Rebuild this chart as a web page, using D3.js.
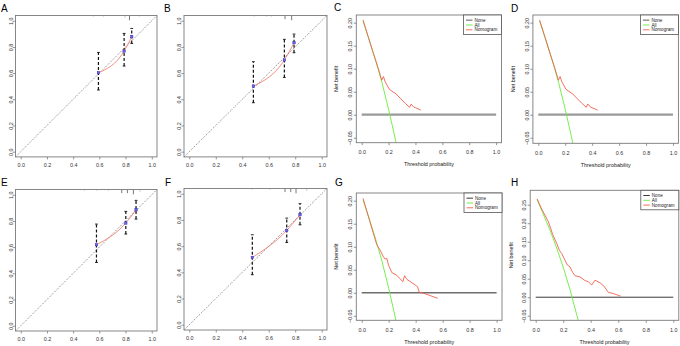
<!DOCTYPE html>
<html>
<head>
<meta charset="utf-8">
<style>
  body { margin: 0; background: #fff; }
  svg { display: block; font-family: "Liberation Sans", Arial, sans-serif; }
</style>
</head>
<body>
<script src="https://d3js.org/d3.v7.min.js"></script>
<script>
// ---------- calibration panels (A, B, E, F) ----------
// predicted probability, observed proportion, 95% CI
const predA = [0.593, 0.789, 0.847];
const obsA = [0.603, 0.768, 0.878];
const loA = [0.471, 0.654, 0.827];
const hiA = [0.758, 0.903, 0.941];
const rugA = [0.555, 0.631, 0.796, 0.83, 0.906];
const rugCountA = [1, 1, 2, 4, 1];

const predB = [0.484, 0.718, 0.791];
const obsB = [0.501, 0.70, 0.832];
const loB = [0.374, 0.567, 0.756];
const hiB = [0.687, 0.858, 0.898];
const rugB = [0.49, 0.584, 0.622, 0.723, 0.773];
const rugCountB = [1, 1, 1, 3, 4];

const predE = [0.578, 0.802, 0.88];
const obsE = [0.618, 0.784, 0.885];
const loE = [0.483, 0.70, 0.814];
const hiE = [0.776, 0.873, 0.957];
const rugE = [0.486, 0.58, 0.669, 0.771, 0.814, 0.86, 0.911];
const rugCountE = [1, 1, 1, 3, 3, 4, 2];

const predF = [0.476, 0.736, 0.836];
const obsF = [0.514, 0.72, 0.84];
const loF = [0.382, 0.628, 0.763];
const hiF = [0.687, 0.814, 0.924];
const rugF = [0.471, 0.61, 0.723, 0.766, 0.806, 0.887];
const rugCountF = [1, 1, 3, 3, 4, 2];

const calTicks = [0, 0.2, 0.4, 0.6, 0.8, 1.0];

// ---------- decision curves (C, D, G, H) ----------
const threshC = [0.01, 0.087, 0.124, 0.149, 0.162, 0.174, 0.206, 0.256, 0.286, 0.323, 0.356, 0.368, 0.386, 0.44];
const nbC = [0.206, 0.133, 0.10, 0.075, 0.083, 0.072, 0.055, 0.045, 0.036, 0.025, 0.016, 0.023, 0.017, 0.010];
const allThreshC = [0.01, 0.05, 0.10, 0.15, 0.20, 0.25, 0.27];
const allNbC = [0.203, 0.168, 0.122, 0.071, 0.012, -0.053, -0.082];

const threshD = threshC.slice();
const nbD = nbC.slice();
const allThreshD = allThreshC.slice();
const allNbD = allNbC.slice();

const threshG = [0.01, 0.112, 0.136, 0.161, 0.174, 0.186, 0.199, 0.223, 0.26, 0.305, 0.318, 0.335, 0.397, 0.414, 0.427, 0.459, 0.563];
const nbG = [0.205, 0.104, 0.093, 0.078, 0.073, 0.075, 0.060, 0.044, 0.038, 0.024, 0.037, 0.029, 0.017, 0.013, 0.001, -0.001, -0.012];
const allThreshG = [0.01, 0.05, 0.10, 0.15, 0.20, 0.25, 0.27];
const allNbG = [0.202, 0.166, 0.120, 0.069, 0.010, -0.055, -0.084];

const threshH = [0.01, 0.044, 0.092, 0.109, 0.123, 0.153, 0.172, 0.189, 0.213, 0.230, 0.249, 0.269, 0.286, 0.322, 0.358, 0.383, 0.407, 0.431, 0.467, 0.496, 0.528, 0.564, 0.617];
const nbH = [0.266, 0.238, 0.204, 0.186, 0.170, 0.145, 0.127, 0.118, 0.100, 0.087, 0.082, 0.067, 0.058, 0.055, 0.045, 0.042, 0.033, 0.046, 0.039, 0.030, 0.013, 0.010, 0.003];
const allThreshH = [0.01, 0.05, 0.10, 0.15, 0.20, 0.25, 0.30, 0.33];
const allNbH = [0.264, 0.229, 0.185, 0.136, 0.081, 0.020, -0.050, -0.094];

const dcaXTicks = [0, 0.2, 0.4, 0.6, 0.8, 1.0];
const dcaYTicks = [-0.05, 0, 0.05, 0.10, 0.15, 0.20];
const dcaYTicksH = [-0.05, 0, 0.05, 0.10, 0.15, 0.20, 0.25];
const legendLabels = ["None", "All", "Nomogram"];

const RED = "#f2604f", GREEN = "#6aec3a";

const svg = d3.select("body").append("svg").attr("width", 680).attr("height", 346);

function box(g, x, y) {
  const [x0, x1] = x.range(), [y0, y1] = y.range();
  g.append("rect").attr("x", x0).attr("y", y1).attr("width", x1 - x0).attr("height", y0 - y1)
    .attr("fill", "none").attr("stroke", "#7a7a7a").attr("stroke-width", 0.9);
}

function axes(g, x, y, xt, yt, xf, yf, xPad, yPad) {
  const gx = g.append("g").attr("transform", `translate(0,${y.range()[0]})`)
    .call(d3.axisBottom(x).tickValues(xt).tickFormat(xf).tickSize(2.5).tickPadding(xPad));
  const gy = g.append("g").attr("transform", `translate(${x.range()[0]},0)`)
    .call(d3.axisLeft(y).tickValues(yt).tickFormat(yf).tickSize(2.5));
  [gx, gy].forEach(a => {
    a.select(".domain").remove();
    a.selectAll("line").attr("stroke", "#7a7a7a").attr("stroke-width", 0.8);
    a.selectAll("text").attr("fill", "#333").style("font-size", "5.4px");
  });
  gy.selectAll("text").attr("x", 0).attr("y", -yPad).attr("dy", "0.35em")
    .attr("text-anchor", "middle").attr("transform", "rotate(-90)");
}

function calibration(p, pred, obs, lo, hi, rug, rugCount) {
  const g = svg.append("g");
  const x = d3.scaleLinear().domain([-0.04, 1.04]).range([p.left, p.right]);
  const y = d3.scaleLinear().domain([-0.04, 1.04]).range([p.bottom, p.top]);

  // ideal line
  g.append("line").attr("x1", x(-0.04)).attr("y1", y(-0.04)).attr("x2", x(1.04)).attr("y2", y(1.04))
    .attr("stroke", "#555").attr("stroke-width", 0.8).attr("stroke-dasharray", "1,1.4");

  // distribution of predictions along top
  g.selectAll("line.rug").data(rug).enter().append("line").attr("class", "rug")
    .attr("x1", d => x(d)).attr("x2", d => x(d))
    .attr("y1", y(1.04)).attr("y2", (d, i) => y(1.04) + 1.2 * rugCount[i])
    .attr("stroke", (d, i) => rugCount[i] > 2 ? "#555" : "#bbb").attr("stroke-width", 0.8);

  const idx = d3.range(pred.length);
  // error bars
  g.selectAll("line.eb").data(idx).enter().append("line").attr("class", "eb")
    .attr("x1", i => x(pred[i])).attr("x2", i => x(pred[i]))
    .attr("y1", i => y(lo[i])).attr("y2", i => y(hi[i]))
    .attr("stroke", "#111").attr("stroke-width", 1.2).attr("stroke-dasharray", "3,2");
  g.selectAll("line.capt").data(idx).enter().append("line")
    .attr("x1", i => x(pred[i]) - 1.4).attr("x2", i => x(pred[i]) + 1.4)
    .attr("y1", i => y(hi[i])).attr("y2", i => y(hi[i]))
    .attr("stroke", "#111").attr("stroke-width", 0.9);
  g.selectAll("line.capb").data(idx).enter().append("line")
    .attr("x1", i => x(pred[i]) - 1.4).attr("x2", i => x(pred[i]) + 1.4)
    .attr("y1", i => y(lo[i])).attr("y2", i => y(lo[i]))
    .attr("stroke", "#111").attr("stroke-width", 0.9);

  // apparent calibration curve
  const line = d3.line().x(i => x(pred[i])).y(i => y(obs[i])).curve(d3.curveMonotoneX);
  g.append("path").datum(idx).attr("d", line).attr("fill", "none")
    .attr("stroke", RED).attr("stroke-width", 0.7);

  g.selectAll("rect.pt").data(idx).enter().append("rect").attr("class", "pt")
    .attr("x", i => x(pred[i]) - 1.2).attr("y", i => y(obs[i]) - 1.2)
    .attr("width", 2.4).attr("height", 2.4)
    .attr("fill", "#7566d8").attr("stroke", "#3030c8").attr("stroke-width", 0.5);

  box(g, x, y);
  axes(g, x, y, calTicks, calTicks, d3.format(".1f"), d3.format(".1f"), 3.5, 4.5);
  svg.append("text").attr("x", p.lx).attr("y", p.ly).text(p.letter)
    .style("font-size", "10px").attr("fill", "#000");
}

function dca(p, thr, nb, allThr, allNb, yTicks) {
  const g = svg.append("g");
  const x = d3.scaleLinear().domain([-0.04, 1.04]).range([p.left, p.right]);
  const y = d3.scaleLinear().domain(p.ydom).range([p.bottom, p.top]);
  const clipId = "clip" + p.letter;
  svg.append("clipPath").attr("id", clipId).append("rect")
    .attr("x", p.left).attr("y", p.top).attr("width", p.right - p.left).attr("height", p.bottom - p.top);
  const pl = g.append("g").attr("clip-path", `url(#${clipId})`);

  pl.append("line").attr("x1", x(0)).attr("x2", x(1)).attr("y1", y(0)).attr("y2", y(0))
    .attr("stroke", p.noneColor).attr("stroke-width", p.noneWidth);
  const allLine = d3.line().x((d, i) => x(allThr[i])).y(d => y(d));
  pl.append("path").datum(allNb).attr("d", allLine).attr("fill", "none")
    .attr("stroke", GREEN).attr("stroke-width", 0.9);
  const nbLine = d3.line().x((d, i) => x(thr[i])).y(d => y(d));
  pl.append("path").datum(nb).attr("d", nbLine).attr("fill", "none")
    .attr("stroke", RED).attr("stroke-width", 0.9);

  box(g, x, y);
  axes(g, x, y, dcaXTicks, yTicks, d3.format(".1f"), d3.format(".2f"), 5, 6);

  g.append("text").attr("x", (p.left + p.right) / 2).attr("y", p.bottom + 23.5)
    .attr("text-anchor", "middle").style("font-size", "5.4px").attr("fill", "#222")
    .text("Threshold probability");
  g.append("text").attr("transform", `translate(${p.yl},${(p.top + p.bottom) / 2}) rotate(-90)`)
    .attr("text-anchor", "middle").attr("dy", "0.35em").style("font-size", "5.4px").attr("fill", "#222")
    .text("Net benefit");

  // legend
  const lg = g.append("g").attr("transform", `translate(${p.right - 38},${p.top})`);
  lg.append("rect").attr("width", 38).attr("height", 19.5).attr("fill", "#fff")
    .attr("stroke", "#555").attr("stroke-width", 0.8);
  const colors = [p.noneColor, GREEN, RED];
  legendLabels.forEach((t, i) => {
    const yy = 5.2 + i * 4.8;
    lg.append("line").attr("x1", 2.5).attr("x2", 9).attr("y1", yy).attr("y2", yy)
      .attr("stroke", colors[i]).attr("stroke-width", i === 0 ? Math.min(p.noneWidth, 1.6) : 0.9);
    lg.append("text").attr("x", 11).attr("y", yy).attr("dy", "0.35em")
      .style("font-size", "4.6px").attr("fill", "#222").text(t);
  });

  svg.append("text").attr("x", p.lx).attr("y", p.ly).text(p.letter)
    .style("font-size", "10px").attr("fill", "#000");
}

calibration({ letter: "A", left: 15.5, right: 157, top: 15.5, bottom: 156.9, lx: 1, ly: 12 },
  predA, obsA, loA, hiA, rugA, rugCountA);
calibration({ letter: "B", left: 184, right: 327, top: 15.5, bottom: 156.9, lx: 164, ly: 12 },
  predB, obsB, loB, hiB, rugB, rugCountB);
calibration({ letter: "E", left: 15.5, right: 157, top: 189.5, bottom: 331, lx: 1, ly: 186 },
  predE, obsE, loE, hiE, rugE, rugCountE);
calibration({ letter: "F", left: 184, right: 327, top: 188.5, bottom: 330, lx: 165, ly: 186 },
  predF, obsF, loF, hiF, rugF, rugCountF);

dca({ letter: "C", left: 356.3, right: 501.5, top: 15, bottom: 142.7, ydom: [-0.0609, 0.2167],
      noneColor: "#9a9a9a", noneWidth: 2.2, yl: 336, lx: 334, ly: 11 },
  threshC, nbC, allThreshC, allNbC, dcaYTicks);
dca({ letter: "D", left: 532.9, right: 678.4, top: 15, bottom: 143.3, ydom: [-0.0621, 0.2167],
      noneColor: "#9a9a9a", noneWidth: 2.2, yl: 513, lx: 511, ly: 12 },
  threshD, nbD, allThreshD, allNbD, dcaYTicks);
dca({ letter: "G", left: 356.3, right: 502, top: 193, bottom: 320.3, ydom: [-0.0598, 0.2167],
      noneColor: "#6e6e6e", noneWidth: 1.4, yl: 336, lx: 335, ly: 186 },
  threshG, nbG, allThreshG, allNbG, dcaYTicks);
dca({ letter: "H", left: 530.2, right: 678.8, top: 190.3, bottom: 320.3, ydom: [-0.0624, 0.289],
      noneColor: "#222", noneWidth: 0.9, yl: 511, lx: 511, ly: 186 },
  threshH, nbH, allThreshH, allNbH, dcaYTicksH);
</script>
</body>
</html>
